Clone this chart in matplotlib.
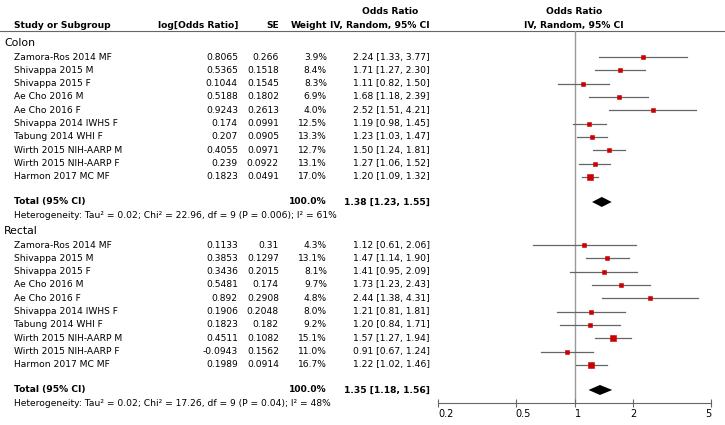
import matplotlib
matplotlib.use("Agg")
import matplotlib.pyplot as plt

# ---- data ----
colon_names = ["Zamora-Ros 2014 MF", "Shivappa 2015 M", "Shivappa 2015 F", "Ae Cho 2016 M",
               "Ae Cho 2016 F", "Shivappa 2014 IWHS F", "Tabung 2014 WHI F",
               "Wirth 2015 NIH-AARP M", "Wirth 2015 NIH-AARP F", "Harmon 2017 MC MF"]
colon_logor = [0.8065, 0.5365, 0.1044, 0.5188, 0.9243, 0.174, 0.207, 0.4055, 0.239, 0.1823]
colon_se = [0.266, 0.1518, 0.1545, 0.1802, 0.2613, 0.0991, 0.0905, 0.0971, 0.0922, 0.0491]
colon_weight = [3.9, 8.4, 8.3, 6.9, 4.0, 12.5, 13.3, 12.7, 13.1, 17.0]
colon_or = [2.24, 1.71, 1.11, 1.68, 2.52, 1.19, 1.23, 1.50, 1.27, 1.20]
colon_lo = [1.33, 1.27, 0.82, 1.18, 1.51, 0.98, 1.03, 1.24, 1.06, 1.09]
colon_hi = [3.77, 2.30, 1.50, 2.39, 4.21, 1.45, 1.47, 1.81, 1.52, 1.32]
colon_total = (1.38, 1.23, 1.55)
colon_het = "Heterogeneity: Tau\u00b2 = 0.02; Chi\u00b2 = 22.96, df = 9 (P = 0.006); I\u00b2 = 61%"

rectal_names = ["Zamora-Ros 2014 MF", "Shivappa 2015 M", "Shivappa 2015 F", "Ae Cho 2016 M",
                "Ae Cho 2016 F", "Shivappa 2014 IWHS F", "Tabung 2014 WHI F",
                "Wirth 2015 NIH-AARP M", "Wirth 2015 NIH-AARP F", "Harmon 2017 MC MF"]
rectal_logor = [0.1133, 0.3853, 0.3436, 0.5481, 0.892, 0.1906, 0.1823, 0.4511, -0.0943, 0.1989]
rectal_se = [0.31, 0.1297, 0.2015, 0.174, 0.2908, 0.2048, 0.182, 0.1082, 0.1562, 0.0914]
rectal_weight = [4.3, 13.1, 8.1, 9.7, 4.8, 8.0, 9.2, 15.1, 11.0, 16.7]
rectal_or = [1.12, 1.47, 1.41, 1.73, 2.44, 1.21, 1.20, 1.57, 0.91, 1.22]
rectal_lo = [0.61, 1.14, 0.95, 1.23, 1.38, 0.81, 0.84, 1.27, 0.67, 1.02]
rectal_hi = [2.06, 1.90, 2.09, 2.43, 4.31, 1.81, 1.71, 1.94, 1.24, 1.46]
rectal_total = (1.35, 1.18, 1.56)
rectal_het = "Heterogeneity: Tau\u00b2 = 0.02; Chi\u00b2 = 17.26, df = 9 (P = 0.04); I\u00b2 = 48%"

ticks = [0.2, 0.5, 1, 2, 5]
tick_labels = ["0.2", "0.5", "1", "2", "5"]

W, H = 725, 425
FS = 6.6
plt.rcParams["font.family"] = "DejaVu Sans"

fig = plt.figure(figsize=(W / 100, H / 100), dpi=100)
ax = fig.add_axes([0, 0, 1, 1])
ax.set_xlim(0, W)
ax.set_ylim(H, 0)
ax.axis("off")

# forest panel shares pixel rows with the table
AX_L, AX_R, AX_TOP, AX_BOT = 438, 711, 31, 403
fx = fig.add_axes([AX_L / W, (H - AX_BOT) / H, (AX_R - AX_L) / W, (AX_BOT - AX_TOP) / H])
fx.set_xscale("log")
fx.set_xlim(0.2, 5)
fx.set_ylim(AX_BOT, AX_TOP)
fx.patch.set_alpha(0)
for s in ("left", "right", "top"):
    fx.spines[s].set_visible(False)
fx.spines["bottom"].set_color("#666666")
fx.spines["bottom"].set_linewidth(0.8)
fx.set_yticks([])
fx.set_xticks(ticks)
fx.set_xticklabels(tick_labels)
fx.minorticks_off()
fx.tick_params(axis="x", direction="inout", length=6, width=0.8, color="#666666",
               labelsize=FS + 0.4, pad=1)
for lab, ha in zip(fx.get_xticklabels(), ["left", "left", "left", "center", "right"]):
    lab.set_ha(ha)
fx.axvline(1, color="#999999", lw=1.0, zorder=0)

# headers
X_NAME, X_LOG, X_SE, X_W, X_OR, X_ORC = 14, 238, 279, 327, 430, 390
ax.text(X_ORC, 11, "Odds Ratio", ha="center", va="center", fontsize=FS, fontweight="bold")
ax.text(574, 11, "Odds Ratio", ha="center", va="center", fontsize=FS, fontweight="bold")
ax.text(X_NAME, 25, "Study or Subgroup", ha="left", va="center", fontsize=FS, fontweight="bold")
ax.text(X_LOG, 25, "log[Odds Ratio]", ha="right", va="center", fontsize=FS, fontweight="bold")
ax.text(X_SE, 25, "SE", ha="right", va="center", fontsize=FS, fontweight="bold")
ax.text(X_W, 25, "Weight", ha="right", va="center", fontsize=FS, fontweight="bold")
ax.text(X_OR, 25, "IV, Random, 95% CI", ha="right", va="center", fontsize=FS, fontweight="bold")
ax.text(574, 25, "IV, Random, 95% CI", ha="center", va="center", fontsize=FS, fontweight="bold")
ax.axhline(31, color="#666666", lw=0.8)

STEP = 13.33


def draw_group(title, y0, names, logor, se, weight, orv, lo, hi, total, het):
    ax.text(4, y0, title, ha="left", va="center", fontsize=FS + 1.2)
    for i, name in enumerate(names):
        y = y0 + 14 + i * STEP
        ax.text(X_NAME, y, name, ha="left", va="center", fontsize=FS)
        ax.text(X_LOG, y, f"{logor[i]:g}", ha="right", va="center", fontsize=FS)
        ax.text(X_SE, y, f"{se[i]:g}", ha="right", va="center", fontsize=FS)
        ax.text(X_W, y, f"{weight[i]:.1f}%", ha="right", va="center", fontsize=FS)
        ax.text(X_OR, y, f"{orv[i]:.2f} [{lo[i]:.2f}, {hi[i]:.2f}]", ha="right", va="center",
                fontsize=FS)
        fx.plot([lo[i], hi[i]], [y, y], color="#666666", lw=0.9, zorder=2)
        # box area proportional to weight
        side = 0.8 + 1.15 * weight[i] ** 0.5
        fx.plot(orv[i], y, marker="s", ms=side * 0.72, color="#cc0000", mec="#cc0000",
                mew=0.4, zorder=3)
    yt = y0 + 14 + (len(names) - 1) * STEP + 25
    ax.text(X_NAME, yt, "Total (95% CI)", ha="left", va="center", fontsize=FS, fontweight="bold")
    ax.text(X_W, yt, "100.0%", ha="right", va="center", fontsize=FS, fontweight="bold")
    ax.text(X_OR, yt, f"{total[0]:.2f} [{total[1]:.2f}, {total[2]:.2f}]", ha="right",
            va="center", fontsize=FS, fontweight="bold")
    est, tlo, thi = total
    fx.fill([tlo, est, thi, est], [yt, yt - 5, yt, yt + 5], color="black", lw=0, zorder=3)
    ax.text(X_NAME, yt + 14, het, ha="left", va="center", fontsize=FS)


draw_group("Colon", 43, colon_names, colon_logor, colon_se, colon_weight,
           colon_or, colon_lo, colon_hi, colon_total, colon_het)
draw_group("Rectal", 231, rectal_names, rectal_logor, rectal_se, rectal_weight,
           rectal_or, rectal_lo, rectal_hi, rectal_total, rectal_het)

fig.savefig("out.png", dpi=100)
